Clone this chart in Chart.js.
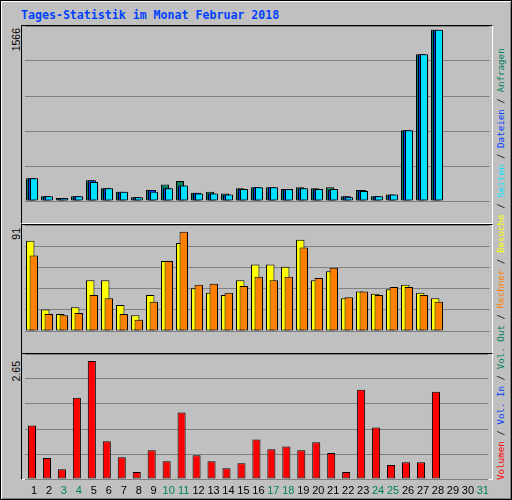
<!DOCTYPE html>
<html>
<head>
<meta charset="utf-8">
<script src="https://cdn.jsdelivr.net/npm/chart.js@4"></script>
<style>
  body { margin: 0; background: #c0c0c0; }
  #frame { position: absolute; left: 0; top: 0; width: 510px; height: 498px; border: 1px solid #000;
           box-shadow: inset 1px 1px 0 #fff, inset -1px -1px 0 #808080; background: #c0c0c0; overflow: hidden; }
  .title { position: absolute; left: 20px; top: 7px; font: bold 11.6px "DejaVu Sans Mono", monospace; color: #0040ff; }
  .panel { position: absolute; left: 20px; width: 470px; border-top: 1px solid #000; border-left: 1px solid #000;
           border-right: 1px solid #fff; border-bottom: 1px solid #fff; }
  canvas { position: absolute; left: 0; top: 0; }
  .ylab { position: absolute; width: 100px; text-align: right; transform-origin: 0 0; transform: rotate(-90deg);
          font: 10.5px "Liberation Sans", sans-serif; line-height: 11px; color: #000; white-space: nowrap; }
  .legend { position: absolute; left: 494px; top: 479px; transform-origin: 0 0; transform: rotate(-90deg);
            font: 9.2px "DejaVu Sans Mono", monospace; line-height: 12px; white-space: nowrap; color: #000; }
</style>
</head>
<body>
<div id="frame">
  <div class="title">Tages-Statistik im Monat Februar 2018</div>

  <div class="panel" style="top:24px;height:197px"><canvas id="c-top"></canvas></div>
  <div class="panel" style="top:223px;height:128px"><canvas id="c-mid"></canvas></div>
  <div class="panel" style="top:352px;height:125px"><canvas id="c-bot"></canvas></div>

  <div class="ylab" style="left:10px;top:127px">1566</div>
  <div class="ylab" style="left:10px;top:327px">91</div>
  <div class="ylab" style="left:10px;top:460px">2.65</div>

  <div class="legend"><span style="color:#ff0000">Volumen</span> / <span style="color:#0040ff">Vol. In</span> / <span style="color:#00805c">Vol. Out</span> / <span style="color:#ff8000">Rechner</span> / <span style="color:#ffff00">Besuche</span> / <span style="color:#00e0ff">Seiten</span> / <span style="color:#0040ff">Dateien</span> / <span style="color:#00805c">Anfragen</span></div>
</div>

<script>
// Tage im Februar 2018 (Achse geht bis 31)
const days = Array.from({ length: 31 }, (_, i) => String(i + 1));
const weekendDays = [3, 4, 10, 11, 17, 18, 24, 25, 31];

// Anfragen / Dateien / Seiten
const anfragen = [207, 44, 27, 44, 190, 117, 84, 35, 101, 150, 182, 76, 84, 68, 117, 125, 125, 109, 125, 117, 125, 44, 101, 44, 60, 647, 1341, 1566];
const dateien  = [207, 44, 27, 44, 190, 117, 84, 35, 101, 117, 141, 76, 68, 60, 109, 125, 125, 109, 117, 109, 101, 44, 101, 44, 60, 647, 1341, 1566];
const seiten   = [207, 44, 27, 44, 174, 117, 84, 35, 84, 117, 141, 68, 68, 60, 109, 125, 125, 109, 117, 109, 109, 35, 92, 44, 60, 647, 1341, 1566];

// Besuche / Rechner
const besuche = [80, 19, 15, 21, 45, 45, 23, 14, 32, 62, 78, 38, 34, 32, 45, 59, 59, 57, 81, 45, 53, 29, 35, 33, 37, 41, 34, 29];
const rechner = [67, 15, 14, 16, 32, 29, 15, 10, 26, 62, 88, 41, 42, 34, 40, 48, 45, 48, 74, 47, 56, 30, 35, 32, 39, 39, 32, 26];

// Volumen (GB)
const volumen = [1.15, 0.45, 0.21, 1.75, 2.54, 0.81, 0.47, 0.15, 0.62, 0.38, 1.43, 0.51, 0.38, 0.23, 0.34, 0.85, 0.64, 0.70, 0.62, 0.79, 0.56, 0.15, 1.92, 1.11, 0.30, 0.36, 0.36, 1.88];

Chart.defaults.animation = false;
Chart.defaults.responsive = false;
Chart.defaults.plugins.legend.display = false;
Chart.defaults.plugins.tooltip.enabled = false;

// order: kleinere Zahl liegt oben; negative Prozente drehen die Gruppe (oben liegender Balken rechts)
function bar(label, data, color, bp, order) {
    return { label, data, order, backgroundColor: color, borderColor: '#000', borderWidth: 1,
             borderSkipped: false, barPercentage: bp, categoryPercentage: 1 };
}

function makePanel(id, w, h, max, datasets, catPct, showX) {
    const canvas = document.getElementById(id);
    canvas.width = w;
    canvas.height = h;
    datasets.forEach(d => d.categoryPercentage = catPct);
    return new Chart(canvas.getContext('2d'), {
        type: 'bar',
        data: { labels: days, datasets },
        options: {
            layout: { padding: { left: 2.5, right: 2.5, top: 0, bottom: 0 } },
            scales: {
                x: {
                    display: showX,
                    grid: { display: false, drawTicks: false },
                    border: { display: false },
                    afterFit: (scale) => { scale.height = 22; },
                    ticks: {
                        autoSkip: false, maxRotation: 0, padding: 5, labelOffset: 2,
                        font: { family: 'Liberation Sans', size: 11 },
                        color: (ctx) => weekendDays.includes(ctx.index + 1) ? '#00805c' : '#000'
                    }
                },
                y: {
                    min: 0, max: max,
                    afterFit: (scale) => { scale.width = 0; },
                    ticks: { display: false, stepSize: max / 5 },
                    grid: { color: '#808080', lineWidth: 1, drawTicks: false },
                    border: { display: false }
                }
            }
        }
    });
}

makePanel('c-top', 470, 197, 1600, [
    bar('Anfragen', anfragen, '#00805c', -4, 3),
    bar('Dateien', dateien, '#0040ff', -4, 2),
    bar('Seiten', seiten, '#00e0ff', -4, 1)
], -0.4, false);

makePanel('c-mid', 470, 128, 94, [
    bar('Besuche', besuche, '#ffff00', -2.4, 2),
    bar('Rechner', rechner, '#ff8000', -2.4, 1)
], -0.47, false);

makePanel('c-bot', 470, 125 + 22, 2.69, [
    bar('Volumen', volumen, '#ff0000', 0.54, 1)
], 1, true);
</script>
</body>
</html>
